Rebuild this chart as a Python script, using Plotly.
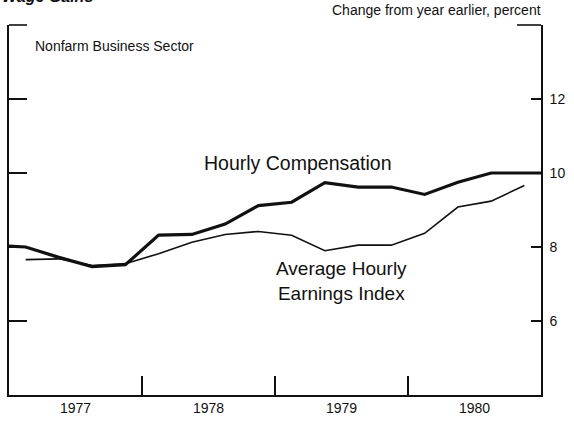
import plotly.graph_objects as go

# ---- data ----
comp_quarters = ["1976Q4", "1977Q1", "1977Q2", "1977Q3", "1977Q4",
                 "1978Q1", "1978Q2", "1978Q3", "1978Q4",
                 "1979Q1", "1979Q2", "1979Q3", "1979Q4",
                 "1980Q1", "1980Q2", "1980Q3", "1980Q4", "1981Q1"]
comp_values = [8.05, 8.0, 7.72, 7.47, 7.52,
               8.32, 8.34, 8.62, 9.12,
               9.21, 9.74, 9.62, 9.62,
               9.42, 9.75, 10.0, 10.0, 10.0]

ahe_quarters = ["1977Q1", "1977Q2", "1977Q3", "1977Q4",
                "1978Q1", "1978Q2", "1978Q3", "1978Q4",
                "1979Q1", "1979Q2", "1979Q3", "1979Q4",
                "1980Q1", "1980Q2", "1980Q3", "1980Q4"]
ahe_values = [7.66, 7.68, 7.5, 7.55,
              7.82, 8.13, 8.34, 8.42,
              8.32, 7.9, 8.05, 8.05,
              8.37, 9.08, 9.24, 9.66]

year_labels = ["1977", "1978", "1979", "1980"]
y_ticks = [6, 8, 10, 12]


def qpos(q):
    return int(q[:4]) + (int(q[-1]) - 0.5) / 4.0


FONT = "Liberation Sans, Arial, Helvetica, sans-serif"
INK = "#111111"

fig = go.Figure()
fig.add_trace(go.Scatter(
    x=[qpos(q) for q in comp_quarters], y=comp_values,
    mode="lines", line=dict(color=INK, width=3.2),
    name="Hourly Compensation", yaxis="y", hoverinfo="skip"))
fig.add_trace(go.Scatter(
    x=[qpos(q) for q in ahe_quarters], y=ahe_values,
    mode="lines", line=dict(color=INK, width=1.6),
    name="Average Hourly Earnings Index", yaxis="y2", hoverinfo="skip"))

year_starts = [int(y) for y in year_labels]
fig.update_layout(
    width=574, height=425,
    margin=dict(l=9, r=28, t=25, b=26),
    paper_bgcolor="white", plot_bgcolor="white",
    showlegend=False,
    font=dict(family=FONT, color=INK, size=14),
    xaxis=dict(
        range=[year_starts[0], year_starts[-1] + 1],
        tickvals=[y + 0.5 for y in year_starts], ticktext=year_labels,
        ticks="", showgrid=False, zeroline=False,
        showline=True, linecolor=INK, linewidth=1.6,
        tickfont=dict(size=14, color=INK, family=FONT),
        minor=dict(tickvals=year_starts[1:], ticks="inside", ticklen=19,
                   tickwidth=1.4, tickcolor=INK, showgrid=False),
    ),
    yaxis=dict(
        range=[4, 14], tickvals=y_ticks, showticklabels=False,
        ticks="inside", ticklen=18, tickwidth=1.4, tickcolor=INK,
        showgrid=False, zeroline=False,
        showline=True, linecolor=INK, linewidth=1.8,
    ),
    yaxis2=dict(
        range=[4, 14], tickvals=y_ticks, overlaying="y", side="right",
        ticks="inside", ticklen=10, tickwidth=1.4, tickcolor=INK,
        ticklabelstandoff=4,
        showgrid=False, zeroline=False,
        tickfont=dict(size=14, color=INK, family=FONT),
        showline=True, linecolor=INK, linewidth=1.8,
    ),
)

# top corner stubs of the frame
fig.add_shape(type="line", xref="paper", yref="paper", x0=0, x1=0.034, y0=1, y1=1,
              line=dict(color=INK, width=1.6))
fig.add_shape(type="line", xref="paper", yref="paper", x0=0.955, x1=1, y0=1, y1=1,
              line=dict(color=INK, width=1.6))

fig.add_annotation(text="Hourly Compensation", x=1979.17, y=10.26, xref="x", yref="y",
                   showarrow=False, font=dict(size=19.5, color=INK))
fig.add_annotation(text="Average Hourly<br>Earnings Index", x=1979.5, y=7.07,
                   xref="x", yref="y", showarrow=False, font=dict(size=19, color=INK))
fig.add_annotation(text="Nonfarm Business Sector", x=0.045, y=0.944, xref="paper",
                   yref="paper", xanchor="left", yanchor="middle", showarrow=False,
                   font=dict(size=14, color=INK))
fig.add_annotation(text="Change from year earlier, percent", x=1.003, y=1.04,
                   xref="paper", yref="paper", xanchor="right", yanchor="middle",
                   showarrow=False, font=dict(size=14, color=INK))
fig.add_annotation(text="<b><i>Wage Gains</i></b>", x=-0.016, y=1.078, xref="paper",
                   yref="paper", xanchor="left", yanchor="middle", showarrow=False,
                   font=dict(size=16, color=INK))

POST = (
    "document.documentElement.style.margin='0';"
    "document.body.style.margin='0';"
    "document.body.style.lineHeight='0';"
    "document.querySelectorAll('.plotly-graph-div').forEach(function(d){"
    "d.style.overflow='hidden';d.style.height='425px';d.style.lineHeight='0';});"
    "document.querySelectorAll('.svg-container').forEach(function(c){"
    "c.style.display='block';});"
)

fig.write_html(
    "out.html",
    config={"displayModeBar": False, "staticPlot": True},
    post_script=POST,
)
